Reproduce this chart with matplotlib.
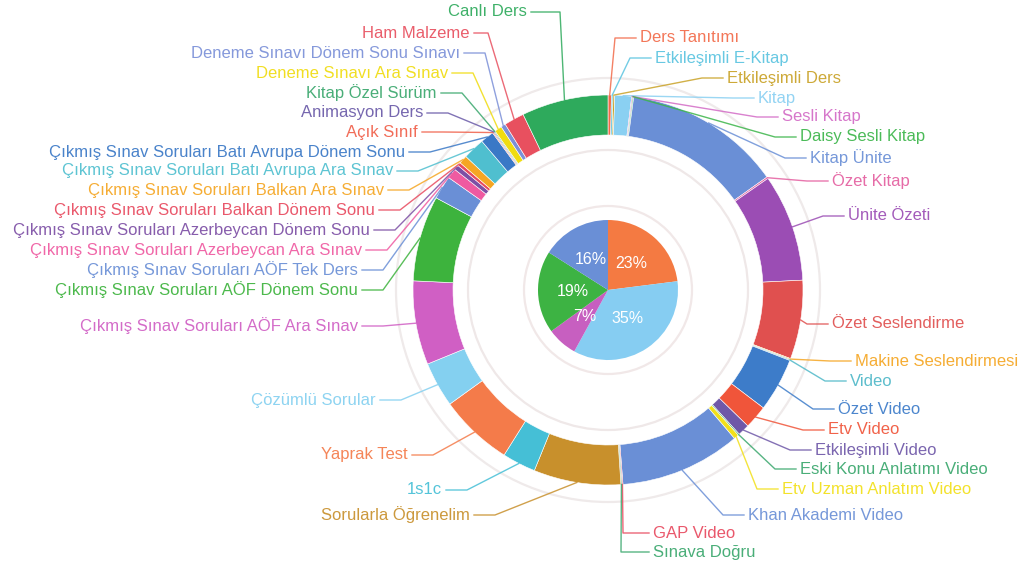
import matplotlib
matplotlib.use("Agg")
import matplotlib.pyplot as plt
from matplotlib.patches import Circle
import numpy as np

plt.rcParams['font.family'] = ['Liberation Sans', 'DejaVu Sans']

# ---------------- data ----------------
inner_values = [23, 35, 7, 19, 16]
inner_colors = ['#f47a42', '#86cdf2', '#c75fc0', '#3db343', '#6a8fd6']

outer_labels = [
    'Ders Tanıtımı', 'Etkileşimli E-Kitap', 'Etkileşimli Ders', 'Kitap', 'Sesli Kitap',
    'Daisy Sesli Kitap', 'Kitap Ünite', 'Özet Kitap', 'Ünite Özeti', 'Özet Seslendirme',
    'Makine Seslendirmesi', 'Video', 'Özet Video', 'Etv Video', 'Etkileşimli Video',
    'Eski Konu Anlatımı Video', 'Etv Uzman Anlatım Video', 'Khan Akademi Video', 'GAP Video',
    'Sınava Doğru', 'Sorularla Öğrenelim', '1s1c', 'Yaprak Test', 'Çözümlü Sorular',
    'Çıkmış Sınav Soruları AÖF Ara Sınav', 'Çıkmış Sınav Soruları AÖF Dönem Sonu',
    'Çıkmış Sınav Soruları AÖF Tek Ders', 'Çıkmış Sınav Soruları Azerbeycan Ara Sınav',
    'Çıkmış Sınav Soruları Azerbeycan Dönem Sonu', 'Çıkmış Sınav Soruları Balkan Dönem Sonu',
    'Çıkmış Sınav Soruları Balkan Ara Sınav', 'Çıkmış Sınav Soruları Batı Avrupa Ara Sınav',
    'Çıkmış Sınav Soruları Batı Avrupa Dönem Sonu', 'Açık Sınıf', 'Animasyon Ders',
    'Kitap Özel Sürüm', 'Deneme Sınavı Ara Sınav', 'Deneme Sınavı Dönem Sonu Sınavı',
    'Ham Malzeme', 'Canlı Ders',
]
outer_values = [
    1.0, 0.5, 0.5, 5.0, 0.3,
    0.3, 47.0, 0.5, 32.0, 23.5,
    0.3, 0.3, 16.0, 7.0, 3.5,
    0.4, 1.5, 36.0, 0.3,
    0.3, 26.0, 10.0, 22.0, 13.5,
    25.0, 25.5,
    7.0, 3.0,
    1.5, 1.0,
    2.5, 6.5,
    4.0, 0.3, 0.3,
    0.3, 2.2, 1.4,
    6.0, 25.8,
]
outer_colors = [
    '#f26b4a', '#5bc4e0', '#c9a227', '#8ad0f2', '#d36bc6',
    '#3cb54a', '#6a8fd6', '#e45fa0', '#9b4db4', '#e0504f',
    '#f5a623', '#4fb8c8', '#3d7cc9', '#f0553a', '#6f58a8',
    '#3aa76d', '#f2e01a', '#6a8fd6', '#e84a5f',
    '#3aa76d', '#c8902c', '#45bfd6', '#f47b4a', '#84d0f0',
    '#d05fc4', '#3db33d',
    '#6a8fd6', '#ef5aa1',
    '#7d4fa5', '#e84a5f',
    '#f5a623', '#4fbfcf',
    '#3a78c6', '#f0604a', '#6a5aa8',
    '#3aa76d', '#f0dc10', '#7b90d8',
    '#e8505f', '#2eaa5c',
]

# ---------------- layout (pixels from top-left) ----------------
W, H = 1023, 571
CX, CY = 608, 290          # centre (pixels from top)
R_OUT, RING_W = 195, 40
R_PIE = 70

# label anchor: side, text x (edge nearest the chart), text y, elbow offset
label_layout = [
    ('R', 640, 38, 25), ('R', 655, 58, 25), ('R', 727, 78, 25), ('R', 758, 98, 25), ('R', 782, 117, 25),
    ('R', 800, 137, 25), ('R', 810, 158, 25), ('R', 832, 181, 25), ('R', 848, 216, 25), ('R', 832, 324, 25),
    ('R', 855, 361, 25), ('R', 850, 381, 25), ('R', 838, 409, 25), ('R', 828, 430, 25), ('R', 815, 450, 25),
    ('R', 800, 469, 25), ('R', 782, 489, 25), ('R', 748, 515, 25), ('R', 653, 533, 30),
    ('R', 653, 552, 32), ('L', 470, 515, 25), ('L', 442, 490, 25), ('L', 408, 455, 25), ('L', 376, 400, 25),
    ('L', 358, 326, 25), ('L', 358, 290, 25),
    ('L', 358, 270, 25), ('L', 362, 250, 25),
    ('L', 370, 230, 25), ('L', 375, 210, 25),
    ('L', 384, 190, 25), ('L', 393, 171, 25),
    ('L', 405, 152, 25), ('L', 418, 132, 25), ('L', 423, 113, 25),
    ('L', 437, 93, 25), ('L', 448, 73, 25), ('L', 460, 53, 25),
    ('L', 470, 33, 18), ('L', 527, 12, 33),
]

fig = plt.figure(figsize=(W / 100, H / 100), dpi=100)
ax = fig.add_axes([0, 0, 1, 1])

cy = H - CY

# faint guide circles
for r, c in [(212, '#efeaea'), (140, '#efe8e8'), (84, '#f1e8e8')]:
    ax.add_patch(Circle((CX, cy), r, fill=False, ec=c, lw=1.6, zorder=0))

# outer ring
ax.pie(outer_values, colors=outer_colors, startangle=90, counterclock=False,
       radius=R_OUT, center=(CX, cy),
       wedgeprops=dict(width=RING_W, linewidth=0.4, edgecolor='white'))

# inner pie
wedges, texts, autotexts = ax.pie(
    inner_values, colors=inner_colors, startangle=90, counterclock=False,
    radius=R_PIE, center=(CX, cy), autopct='%d%%', pctdistance=0.5,
    wedgeprops=dict(linewidth=0),
    textprops=dict(color='white', fontsize=11.5))

# leader lines + labels
total = sum(outer_values)
cum = 0.0
for lab, val, col, (side, tx, ty, off) in zip(outer_labels, outer_values, outer_colors, label_layout):
    mid = (cum + val / 2) / total * 2 * np.pi
    cum += val
    px = CX + R_OUT * np.sin(mid)
    py = cy + R_OUT * np.cos(mid)
    yy = H - ty
    if side == 'R':
        ex = tx - off
        ax.plot([px, ex, tx - 4], [py, yy, yy], color=col, lw=1.0, alpha=0.85, zorder=1)
        ax.text(tx, yy, lab, color=col, fontsize=12, ha='left', va='center', alpha=0.92)
    else:
        ex = tx + off
        ax.plot([px, ex, tx + 4], [py, yy, yy], color=col, lw=1.0, alpha=0.85, zorder=1)
        ax.text(tx, yy, lab, color=col, fontsize=12, ha='right', va='center', alpha=0.92)

ax.set_xlim(0, W)
ax.set_ylim(0, H)
ax.set_aspect('equal')
ax.axis('off')

fig.savefig('out.png', dpi=100, facecolor='white')
